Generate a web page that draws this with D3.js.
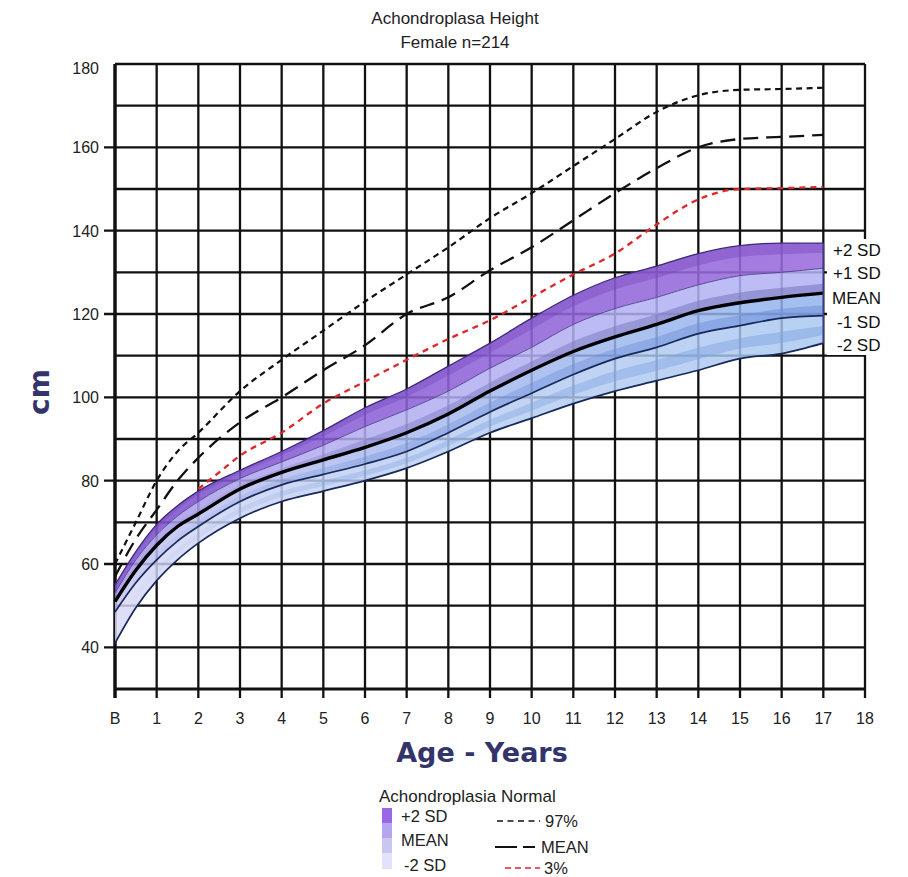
<!DOCTYPE html>
<html><head><meta charset="utf-8">
<script src="https://cdn.jsdelivr.net/npm/d3@7"></script>
<style>
html,body{margin:0;padding:0;background:#fff;}
svg{display:block;font-family:"Liberation Sans",Arial,sans-serif;}
</style></head>
<body>
<svg id="chart" width="908" height="877"></svg>
<script>
// ---------------- DATA ----------------
const bandAges = [0, 0.5, 1, 1.5, 2, 3, 4, 5, 6, 7, 8, 9, 10, 11, 12, 13, 14, 15, 16, 17];
const sdPlus2  = [55, 63, 69.5, 74, 77.5, 82.5, 87, 92, 97.5, 102, 107.5, 113, 119, 124.5, 128.7, 131.5, 134.5, 136.4, 137, 137];
const sdPlus1  = [53, 61, 67, 71.5, 75, 80.5, 84.5, 88.5, 93, 97, 101.5, 107, 112, 117.5, 121.3, 124, 127, 129.2, 130, 131];
const sdMean   = [51, 58.5, 64.5, 69, 72, 78, 82, 85, 88, 91.5, 96, 101.5, 106.5, 111, 114.5, 117.5, 120.8, 122.7, 124, 125];
const sdMinus1 = [48.5, 55.5, 61, 65.5, 69, 75, 79, 81.5, 84, 87, 91.5, 96.5, 101, 105.5, 109.3, 112, 115.3, 117.2, 119, 119.6];
const sdMinus2 = [41, 49.5, 56, 61, 65, 71, 75, 77.5, 80, 83, 87, 91.5, 95, 98.5, 101.5, 104, 106.5, 109.3, 110.5, 113];

const refAges  = [0, 0.5, 1, 1.5, 2, 3, 4, 5, 6, 7, 8, 9, 10, 11, 12, 13, 14, 15, 16, 17];
const normal97 = [60, 70, 80, 87, 91.5, 101.5, 109, 116, 123, 129.5, 136, 143, 149, 155.5, 162, 168.5, 172.5, 173.8, 174, 174.3];
const normalMean = [57, 66, 73, 80, 85.5, 94, 100, 106.5, 112.5, 120, 124, 130.5, 136, 142.5, 149, 155, 160, 162, 162.5, 163];

const p3Ages   = [2, 2.5, 3, 4, 5, 6, 7, 8, 9, 10, 11, 12, 13, 14, 15, 16, 17];
const normal3  = [78, 82, 86, 91.5, 98.5, 103.8, 109, 114, 118.5, 124, 129.5, 134.5, 141.5, 147.5, 150, 150.2, 150.5];

const xTicks = [0,1,2,3,4,5,6,7,8,9,10,11,12,13,14,15,16,17,18];
const xTickLabels = ["B","1","2","3","4","5","6","7","8","9","10","11","12","13","14","15","16","17","18"];
const yGrid = [40,50,60,70,80,90,100,110,120,130,140,150,160,170,180];
const yLabels = [40,60,80,100,120,140,160,180];
const sdLabels = ["+2 SD","+1 SD","MEAN","-1 SD","-2 SD"];

// ---------------- SETUP ----------------
const svg = d3.select("#chart");
const x = d3.scaleLinear().domain([0,18]).range([115,865]);
const y = d3.scaleLinear().domain([30,180]).range([689,64]);
const defs = svg.append("defs");

function hGrad(id, stops){
  const g = defs.append("linearGradient").attr("id", id)
    .attr("gradientUnits","userSpaceOnUse").attr("x1", x(0)).attr("x2", x(17)).attr("y1",0).attr("y2",0);
  stops.forEach(s => g.append("stop").attr("offset", s[0]).attr("stop-color", s[1]).attr("stop-opacity", s[2] ?? 1));
}
hGrad("gA", [[0,"#7a4ec8"],[0.3,"#8a60d6"],[1,"#9a6cdc"]]);
hGrad("gB", [[0,"#a494e6"],[0.3,"#b2acf0"],[1,"#b2b2f3"]]);
hGrad("gC", [[0,"#c6c4f0"],[0.35,"#aabaee"],[1,"#90b2ec"]]);
hGrad("gD", [[0,"#d8d8f6"],[0.35,"#bccdf2"],[1,"#a6c6f0"]]);
hGrad("sB", [[0,"#7a7ac0",0],[0.35,"#7a7ac0",0.45],[1,"#7878c0",0.6]]);
hGrad("sC", [[0,"#6f90d8",0],[0.35,"#6f90d8",0.35],[1,"#6a8cd8",0.5]]);
hGrad("sD", [[0,"#7ea2e0",0],[0.35,"#7ea2e0",0.35],[1,"#7ea2e0",0.5]]);
hGrad("sA", [[0,"#6a40b8",0.3],[1,"#7a48c0",0.45]]);

// ---------------- TITLE ----------------
svg.append("text").attr("x",455).attr("y",24).attr("text-anchor","middle")
  .attr("font-size",17).attr("fill","#222").text("Achondroplasa Height");
svg.append("text").attr("x",455).attr("y",48).attr("text-anchor","middle")
  .attr("font-size",17).attr("fill","#222").text("Female n=214");

// ---------------- GRID ----------------
const grid = svg.append("g");
yGrid.forEach(v => {
  const isLab = yLabels.includes(v) && v !== 180;
  grid.append("line").attr("x1", isLab ? 104 : x(0)).attr("x2", x(18))
    .attr("y1", y(v)).attr("y2", y(v)).attr("stroke","#111").attr("stroke-width",2.3);
});
xTicks.forEach(t => {
  grid.append("line").attr("x1", x(t)).attr("x2", x(t)).attr("y1", y(180)).attr("y2", y(30) + 9)
    .attr("stroke","#111").attr("stroke-width", t===0 ? 3.5 : 2.3);
});
grid.append("line").attr("x1", x(0)).attr("x2", x(18)).attr("y1", y(30)).attr("y2", y(30))
  .attr("stroke","#111").attr("stroke-width",3);

// y labels
yLabels.forEach(v => {
  svg.append("text").attr("x",99).attr("y", y(v) + (v===180 ? 10 : 6)).attr("text-anchor","end")
    .attr("font-size",16).attr("fill","#222").text(v);
});
// x labels
xTicks.forEach((t,i) => {
  svg.append("text").attr("x", x(t)).attr("y", 724).attr("text-anchor","middle")
    .attr("font-size",16).attr("fill","#222").text(xTickLabels[i]);
});

// axis titles
svg.append("text").attr("transform","translate(49,392) rotate(-90)").attr("text-anchor","middle")
  .attr("font-family","'DejaVu Sans',Verdana,sans-serif").attr("font-weight","bold")
  .attr("font-size",28).attr("fill","#34346c").text("cm");
svg.append("text").attr("x",482).attr("y",762).attr("text-anchor","middle")
  .attr("font-family","'DejaVu Sans',Verdana,sans-serif").attr("font-weight","bold")
  .attr("font-size",27).attr("fill","#34346c").text("Age - Years");

// ---------------- BANDS ----------------
const curve = d3.curveMonotoneX;
const idx = d3.range(bandAges.length);
function band(upper, lower, fill, op){
  const a = d3.area().x(i => x(bandAges[i])).y0(i => y(lower[i])).y1(i => y(upper[i])).curve(curve);
  svg.append("path").attr("d", a(idx)).attr("fill", fill).attr("fill-opacity", op);
}
function stripe(upper, lower, f0, f1, fill){
  const a = d3.area().x(i => x(bandAges[i]))
    .y0(i => y(lower[i] + (upper[i]-lower[i])*f0))
    .y1(i => y(lower[i] + (upper[i]-lower[i])*f1)).curve(curve);
  svg.append("path").attr("d", a(idx)).attr("fill", fill);
}
band(sdPlus2, sdPlus1, "url(#gA)", 0.88);
band(sdPlus1, sdMean, "url(#gB)", 0.86);
band(sdMean, sdMinus1, "url(#gC)", 0.84);
band(sdMinus1, sdMinus2, "url(#gD)", 0.82);
stripe(sdPlus2, sdPlus1, 0.62, 1.0, "url(#sA)");
stripe(sdPlus1, sdMean, 0.0, 0.38, "url(#sB)");
stripe(sdMean, sdMinus1, 0.0, 0.45, "url(#sC)");
stripe(sdMinus1, sdMinus2, 0.3, 0.62, "url(#sD)");

function bline(vals, color, w){
  const l = d3.line().x(i => x(bandAges[i])).y(i => y(vals[i])).curve(curve);
  svg.append("path").attr("d", l(idx)).attr("fill","none").attr("stroke", color).attr("stroke-width", w);
}
bline(sdPlus2, "#3e2a78", 1.3);
bline(sdPlus1, "#5a4a9c", 1);
bline(sdMinus1, "#17285a", 1.7);
bline(sdMinus2, "#17285a", 1.7);
bline(sdMean, "#000", 3.4);
svg.append("line").attr("x1", x(17)).attr("x2", x(17)).attr("y1", y(sdPlus2[sdPlus2.length-1])).attr("y2", y(sdMinus2[sdMinus2.length-1]))
  .attr("stroke","#3a3a80").attr("stroke-width",1.5);

// ---------------- REFERENCE LINES ----------------
function refLine(ages, vals, color, dash, w){
  const l = d3.line().x((d,i) => x(ages[i])).y(d => y(d)).curve(curve);
  svg.append("path").attr("d", l(vals)).attr("fill","none").attr("stroke", color)
    .attr("stroke-width", w).attr("stroke-dasharray", dash);
}
refLine(refAges, normal97, "#111", "6,4.5", 2.2);
refLine(refAges, normalMean, "#111", "15,8", 2.3);
refLine(p3Ages, normal3, "#e0262a", "6,5", 2.3);

// ---------------- SD LABELS ----------------
svg.append("rect").attr("x",827).attr("y",239).attr("width",75).attr("height",116).attr("fill","#fff");
const sdY = [250, 273, 298, 322, 345];
const sdX = [833, 833, 832, 837, 837];
sdLabels.forEach((s,i) => {
  svg.append("text").attr("x", sdX[i]).attr("y", sdY[i] + 6).attr("font-size",17).attr("fill","#111").text(s);
});

// ---------------- LEGEND ----------------
const lg = svg.append("g");
lg.append("text").attr("x",379).attr("y",802).attr("font-size",17).attr("fill","#222").text("Achondroplasia Normal");
const swCols = ["#9a68e4","#b6a6f0","#cac6f2","#e4e2fa"];
const swY = [808, 823, 838, 853];
swCols.forEach((c,i) => lg.append("rect").attr("x",382).attr("y",swY[i]).attr("width",10).attr("height", i===3 ? 16 : 15).attr("fill",c));
lg.append("text").attr("x",401).attr("y",822).attr("font-size",16.5).attr("fill","#222").text("+2 SD");
lg.append("text").attr("x",401).attr("y",846).attr("font-size",16.5).attr("fill","#222").text("MEAN");
lg.append("text").attr("x",404).attr("y",871).attr("font-size",16.5).attr("fill","#222").text("-2 SD");

lg.append("line").attr("x1",497).attr("x2",540).attr("y1",821).attr("y2",821).attr("stroke","#111").attr("stroke-width",1.6).attr("stroke-dasharray","6,4.5");
lg.append("text").attr("x",545).attr("y",827).attr("font-size",16.5).attr("fill","#222").text("97%");
lg.append("line").attr("x1",495).attr("x2",517).attr("y1",847).attr("y2",847).attr("stroke","#111").attr("stroke-width",2);
lg.append("line").attr("x1",523).attr("x2",535).attr("y1",847).attr("y2",847).attr("stroke","#111").attr("stroke-width",2);
lg.append("text").attr("x",541).attr("y",853).attr("font-size",16.5).attr("fill","#222").text("MEAN");
lg.append("line").attr("x1",505).attr("x2",540).attr("y1",868).attr("y2",868).attr("stroke","#e0262a").attr("stroke-width",1.6).attr("stroke-dasharray","6,4");
lg.append("text").attr("x",544).attr("y",874).attr("font-size",16.5).attr("fill","#222").text("3%");
</script>
</body></html>
